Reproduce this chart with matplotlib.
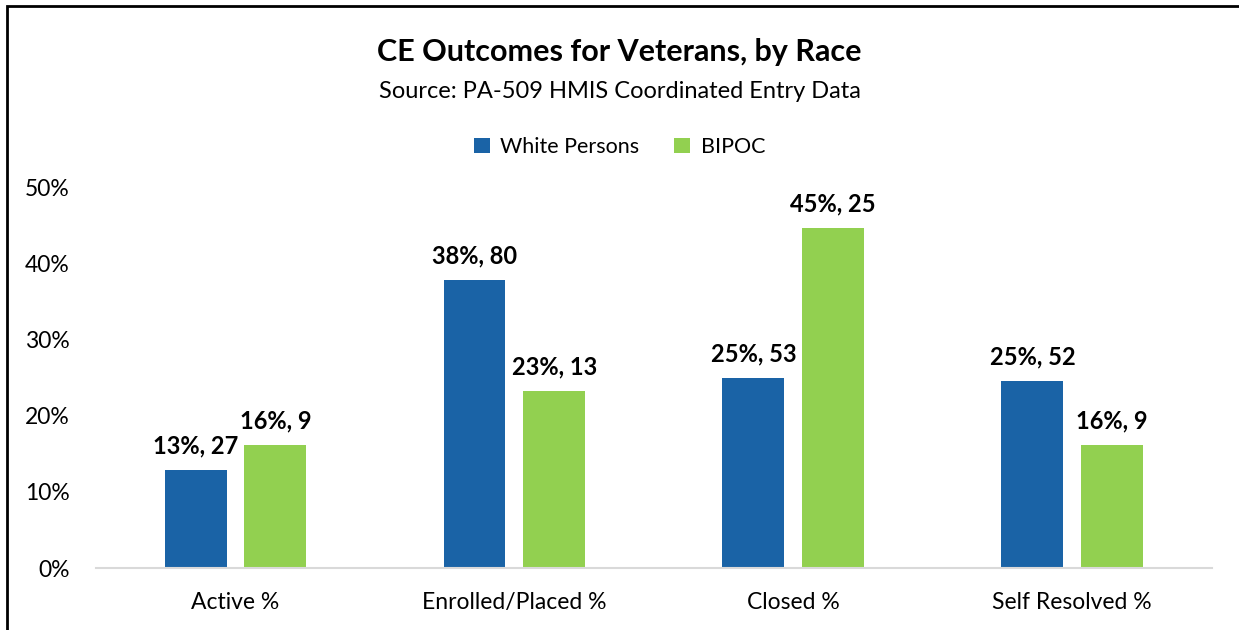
import numpy as np
import matplotlib.pyplot as plt
from matplotlib.patches import Rectangle

categories = ["Active %", "Enrolled/Placed %", "Closed %", "Self Resolved %"]
white_pct = [12.9, 37.8, 25.0, 24.6]
bipoc_pct = [16.1, 23.3, 44.6, 16.1]
white_labels = ["13%, 27", "38%, 80", "25%, 53", "25%, 52"]
bipoc_labels = ["16%, 9", "23%, 13", "45%, 25", "16%, 9"]

blue = "#1A63A6"
green = "#92D050"

plt.rcParams['font.family'] = ['Lato', 'DejaVu Sans']

fig = plt.figure(figsize=(12.39, 6.3), dpi=100)
ax = fig.add_axes([0.0775, 0.0984, 0.9005, 0.6046])

x = np.arange(len(categories))
w = 0.222
off = 0.143
b1 = ax.bar(x - off, white_pct, w, color=blue, label="White Persons")
b2 = ax.bar(x + off, bipoc_pct, w, color=green, label="BIPOC")

for bars, labs in [(b1, white_labels), (b2, bipoc_labels)]:
    for bar, lab in zip(bars, labs):
        ax.annotate(lab, (bar.get_x() + bar.get_width() / 2, bar.get_height()),
                    xytext=(0, 9), textcoords="offset points",
                    ha="center", va="bottom", fontsize=17, fontweight="bold")

ax.set_xlim(-0.5, 3.5)
ax.set_ylim(0, 50)
ax.set_yticks([0, 10, 20, 30, 40, 50])
ax.set_yticklabels([f"{v}%" for v in [0, 10, 20, 30, 40, 50]])
ax.set_xticks(x)
ax.set_xticklabels(categories)
ax.tick_params(axis="both", length=0, labelsize=16.5)
ax.tick_params(axis="y", pad=19)
ax.tick_params(axis="x", pad=17)
for s in ["top", "right", "left"]:
    ax.spines[s].set_visible(False)
ax.spines["bottom"].set_color("#D9D9D9")
ax.spines["bottom"].set_linewidth(1.5)

fig.text(0.5, 1 - 52 / 630, "CE Outcomes for Veterans, by Race", ha="center", va="center",
         fontsize=22, fontweight="bold")
fig.text(0.5, 1 - 92 / 630, "Source: PA-509 HMIS Coordinated Entry Data", ha="center", va="center",
         fontsize=17)
fig.legend(loc="center", bbox_to_anchor=(0.5, 1 - 147 / 630), ncol=2, frameon=False,
           fontsize=15.5, handlelength=0.75, handleheight=0.75, columnspacing=1.6,
           handletextpad=0.5)

fig.patches.append(Rectangle((7 / 1239, -0.05), 1.1, 1 - 6 / 630 + 0.05,
                             transform=fig.transFigure, fill=False,
                             edgecolor="black", linewidth=2))

fig.savefig("out.png", dpi=100)
